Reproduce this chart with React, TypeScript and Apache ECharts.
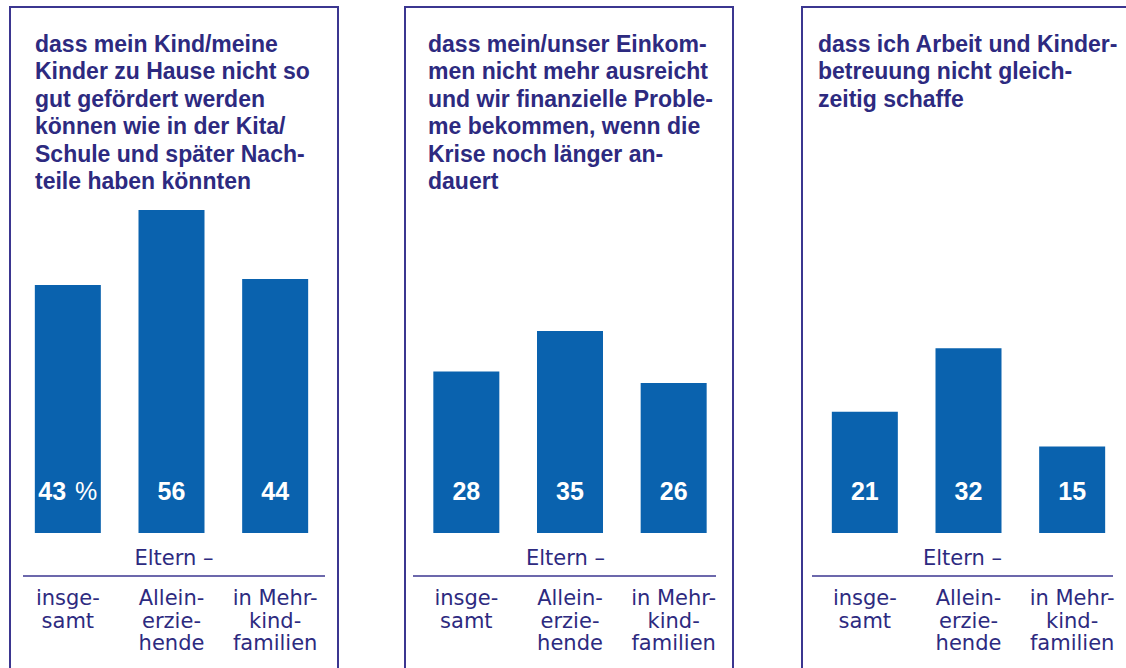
import React, { useEffect, useRef } from "react";
import * as echarts from "echarts";

const categories = ["insge-\nsamt", "Allein-\nerzie-\nhende", "in Mehr-\nkind-\nfamilien"];
const groupLabel = "Eltern –";
const titles = [
  [
    "dass mein Kind/meine",
    "Kinder zu Hause nicht so",
    "gut gefördert werden",
    "können wie in der Kita/",
    "Schule und später Nach-",
    "teile haben könnten",
  ],
  [
    "dass mein/unser Einkom-",
    "men nicht mehr ausreicht",
    "und wir finanzielle Proble-",
    "me bekommen, wenn die",
    "Krise noch länger an-",
    "dauert",
  ],
  [
    "dass ich Arbeit und Kinder-",
    "betreuung nicht gleich-",
    "zeitig schaffe",
  ],
];
const valuesFoerderung = [43, 56, 44];
const valuesEinkommen = [28, 35, 26];
const valuesArbeit = [21, 32, 15];
const seriesValues = [valuesFoerderung, valuesEinkommen, valuesArbeit];

const TEXT = "#2d2a80";
const BORDER = "#3b3690";
const BAR = "#0a62ae";
const FONT = "'Liberation Sans', Arial, sans-serif";
const FONT_REG = "'DejaVu Sans', sans-serif";

export default function App() {
  const ref = useRef<HTMLDivElement>(null);
  useEffect(() => {
    if (!ref.current) return;
    const chart = echarts.init(ref.current, undefined, { renderer: "svg" });

    const panels = [
      { box: 10, gridLeft: 16, titleX: 35, sep: [23, 325], elternX: 174 },
      { box: 405, gridLeft: 414.5, titleX: 428, sep: [413, 716], elternX: 565.5 },
      { box: 802, gridLeft: 813, titleX: 818, sep: [812, 1113], elternX: 962.5 },
    ];
    const bottomY = 533;
    const yMax = 60;
    const unit = 5.77;
    const gridH = yMax * unit;

    const graphic: any[] = [];
    panels.forEach((p, i) => {
      graphic.push({
        type: "rect",
        shape: { x: p.box, y: 7, width: 328, height: 720 },
        style: { fill: "none", stroke: BORDER, lineWidth: 2 },
        silent: true,
      });
      graphic.push({
        type: "text",
        x: p.titleX,
        y: 30,
        style: {
          text: titles[i].join("\n"),
          font: `bold 23px ${FONT}`,
          lineHeight: 27.5,
          fill: TEXT,
          verticalAlign: "top",
        },
      });
      graphic.push({
        type: "text",
        x: p.elternX,
        y: 558,
        style: {
          text: groupLabel,
          font: `21px ${FONT_REG}`,
          fill: TEXT,
          align: "center",
          verticalAlign: "middle",
        },
      });
      graphic.push({
        type: "line",
        shape: { x1: p.sep[0], y1: 576, x2: p.sep[1], y2: 576 },
        style: { stroke: BORDER, lineWidth: 1.5 },
      });
    });

    chart.setOption({
      animation: false,
      grid: panels.map((p) => ({
        left: p.gridLeft,
        width: 311,
        top: bottomY - gridH,
        height: gridH,
      })),
      xAxis: panels.map((_, i) => ({
        type: "category",
        gridIndex: i,
        data: categories,
        axisLine: { show: false },
        axisTick: { show: false },
        axisLabel: {
          margin: 54,
          fontSize: 21,
          lineHeight: 22.5,
          color: TEXT,
          fontFamily: FONT_REG,
          interval: 0,
        },
      })),
      yAxis: panels.map((_, i) => ({
        type: "value",
        gridIndex: i,
        min: 0,
        max: yMax,
        show: false,
        splitLine: { show: false },
      })),
      series: seriesValues.map((vals, i) => ({
        type: "bar",
        xAxisIndex: i,
        yAxisIndex: i,
        data: vals,
        barWidth: 66,
        itemStyle: { color: BAR },
        label: {
          show: true,
          position: "insideBottom",
          distance: 30,
          color: "#ffffff",
          fontFamily: FONT,
          formatter: (p: any) =>
            i === 0 && p.dataIndex === 0 ? `{b|${p.value}}{s| }{p|%}` : `{b|${p.value}}`,
          rich: {
            b: { fontSize: 25, fontWeight: "bold", color: "#fff", fontFamily: FONT },
            s: { fontSize: 25, width: 9, color: "#fff", fontFamily: FONT },
            p: { fontSize: 25, fontWeight: "normal", color: "#fff", fontFamily: FONT },
          },
        },
      })),
      graphic,
    });

    return () => chart.dispose();
  }, []);

  return (
    <div
      ref={ref}
      style={{ position: "absolute", left: 0, top: 0, width: 1126, height: 668, background: "#fff" }}
    />
  );
}
